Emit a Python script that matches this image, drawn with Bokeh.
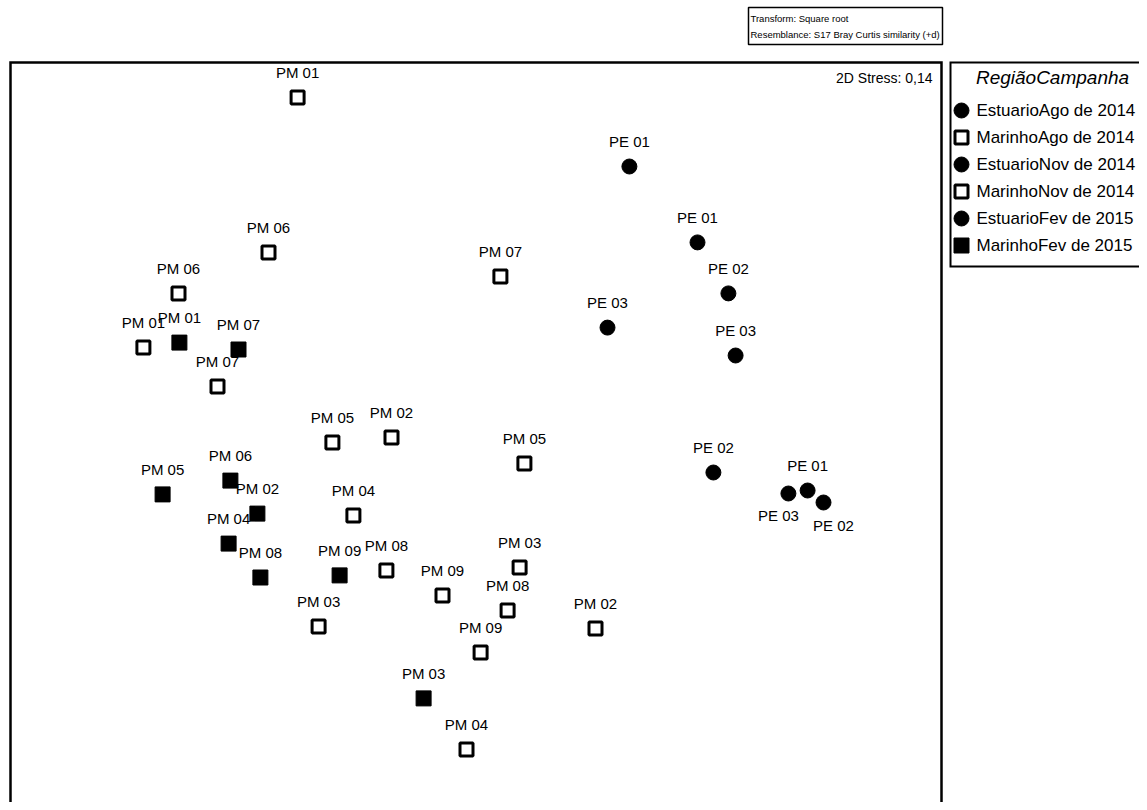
from bokeh.plotting import figure
from bokeh.models import Range1d, ColumnDataSource
from bokeh.core.properties import value
from bokeh.embed import file_html
from bokeh.resources import INLINE

# ---------------- data (NMDS coordinates) ----------------
groups = ["EstuarioAgo de 2014", "MarinhoAgo de 2014", "EstuarioNov de 2014",
          "MarinhoNov de 2014", "EstuarioFev de 2015", "MarinhoFev de 2015"]

pe_labels = ["PE 01", "PE 02", "PE 03"]
pm_labels = ["PM 01", "PM 02", "PM 03", "PM 04", "PM 05", "PM 06", "PM 07", "PM 08", "PM 09"]

est_ago_x = [0.513, 0.793, 0.440]
est_ago_y = [0.780, -0.240, 0.243]
est_nov_x = [0.740, 0.843, 0.867]
est_nov_y = [0.527, 0.357, 0.150]
est_fev_x = [1.107, 1.160, 1.043]
est_fev_y = [-0.300, -0.340, -0.310]

mar_ago_x = [-0.593, 0.400, 0.147, -0.030, 0.163, -0.690, 0.083, 0.107, 0.017]
mar_ago_y = [1.010, -0.760, -0.557, -1.163, -0.210, 0.493, 0.413, -0.700, -0.840]
mar_nov_x = [-1.107, -0.280, -0.523, -0.407, -0.477, -0.990, -0.860, -0.297, -0.110]
mar_nov_y = [0.177, -0.123, -0.753, -0.383, -0.140, 0.357, 0.047, -0.567, -0.650]
mar_fev_x = [-0.987, -0.727, -0.173, -0.823, -1.043, -0.817, -0.790, -0.717, -0.453]
mar_fev_y = [0.193, -0.377, -0.993, -0.477, -0.313, -0.267, 0.170, -0.590, -0.583]

stress_text = "2D Stress: 0,14"
legend_title = "RegiãoCampanha"
info_lines = ["Transform: Square root", "Resemblance: S17 Bray Curtis similarity (+d)"]

# ---------------- layout helpers ----------------
W, H = 1139, 802
SCALE = 300.0
def X(px):
    return (px - 475.0) / SCALE
def Y(py):
    return (400.0 - py) / SCALE

FONT = value("Liberation Sans")

p = figure(width=W, height=H, output_backend="svg", toolbar_location=None,
           x_range=Range1d(X(0), X(W)), y_range=Range1d(Y(H), Y(0)),
           min_border=0, x_axis_location=None, y_axis_location=None)
p.grid.visible = False
p.outline_line_color = None
p.background_fill_color = "white"
p.border_fill_color = "white"

# frames
p.line([X(10), X(10), X(941), X(941)], [Y(840), Y(62), Y(62), Y(840)],
       line_color="black", line_width=2.5, line_join="miter")
p.line([X(1170), X(950), X(950), X(1170)], [Y(62), Y(62), Y(266), Y(266)],
       line_color="black", line_width=2, line_join="miter")
p.quad(left=[X(748)], right=[X(942)], top=[Y(7)], bottom=[Y(44)],
       fill_color=None, line_color="black", line_width=1.5)
p.text(x=[X(750), X(750)], y=[Y(18), Y(34)], text=info_lines,
       text_font=FONT, text_font_size="9.5px", text_baseline="middle",
       text_align="left", text_color="black")

# stress
p.text(x=[X(932)], y=[Y(77)], text=[stress_text], text_font=FONT,
       text_font_size="14px", text_baseline="middle", text_align="right")

# styles per group
styles = {
    "EstuarioAgo de 2014": dict(marker="circle", size=15, fill_color="black", line_color="black", line_width=1),
    "MarinhoAgo de 2014": dict(marker="square", size=13, fill_color="white", line_color="black", line_width=3),
    "EstuarioNov de 2014": dict(marker="circle", size=15, fill_color="black", line_color="black", line_width=1),
    "MarinhoNov de 2014": dict(marker="square", size=13, fill_color="white", line_color="black", line_width=3),
    "EstuarioFev de 2015": dict(marker="circle", size=15, fill_color="black", line_color="black", line_width=1),
    "MarinhoFev de 2015": dict(marker="square", size=15, fill_color="black", line_color="black", line_width=1),
}
series = {
    "EstuarioAgo de 2014": (est_ago_x, est_ago_y, pe_labels),
    "MarinhoAgo de 2014": (mar_ago_x, mar_ago_y, pm_labels),
    "EstuarioNov de 2014": (est_nov_x, est_nov_y, pe_labels),
    "MarinhoNov de 2014": (mar_nov_x, mar_nov_y, pm_labels),
    "EstuarioFev de 2015": (est_fev_x, est_fev_y, pe_labels),
    "MarinhoFev de 2015": (mar_fev_x, mar_fev_y, pm_labels),
}
# labels placed below the point instead of above (dx, dy in screen px)
below = {("EstuarioFev de 2015", "PE 03"): (-10, 22),
         ("EstuarioFev de 2015", "PE 02"): (10, 23)}

for g in groups:
    xs, ys, labs = series[g]
    st = styles[g]
    src = ColumnDataSource(dict(x=xs, y=ys, lab=labs,
                                dx=[below.get((g, l), (0, -25))[0] for l in labs],
                                dy=[below.get((g, l), (0, -25))[1] for l in labs]))
    p.scatter("x", "y", source=src, **st)
    p.text("x", "y", text="lab", source=src, x_offset="dx", y_offset="dy",
           text_font=FONT, text_font_size="15px", text_align="center",
           text_baseline="middle", text_color="black")

# legend (manual, PRIMER style)
p.text(x=[X(1052)], y=[Y(77)], text=[legend_title], text_font=FONT,
       text_font_style="italic", text_font_size="19px", text_align="center",
       text_baseline="middle")
row_y = [110, 137, 164, 191, 218, 245]
for g, ry in zip(groups, row_y):
    st = dict(styles[g])
    p.scatter([X(961)], [Y(ry)], **st)
    p.text(x=[X(976)], y=[Y(ry)], text=[g], text_font=FONT, text_font_size="17px",
           text_align="left", text_baseline="middle")

open("out.html", "w").write(file_html(p, INLINE))
